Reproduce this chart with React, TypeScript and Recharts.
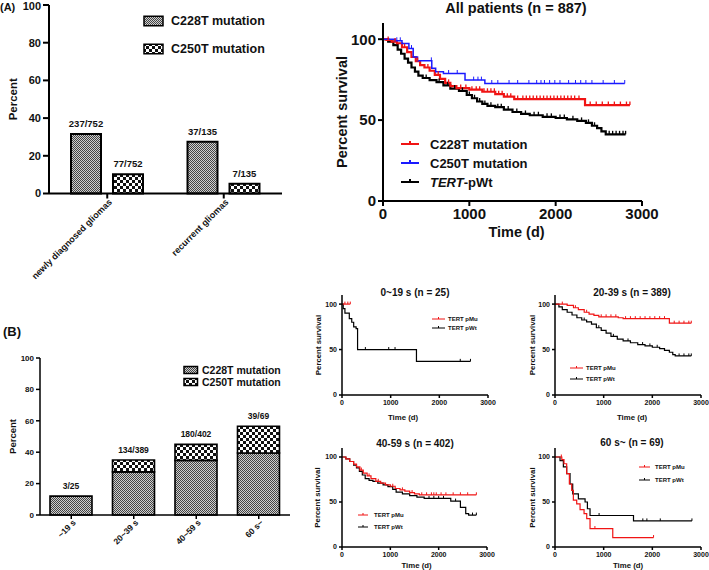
import React from 'react';
import { BarChart, Bar, XAxis, YAxis, LineChart, Line, LabelList, Legend } from 'recharts';

const FONT = '"Liberation Sans", Arial, Helvetica, sans-serif';
const INK = '#111';

// ---------- Panel A: mutation frequency by glioma type ----------
const gliomaTypes = ['newly diagnosed gliomas', 'recurrent gliomas'];
const gliomaC228T = [31.5, 27.4];
const gliomaC250T = [10.2, 5.2];
const gliomaC228TText = ['237/752', '37/135'];
const gliomaC250TText = ['77/752', '7/135'];

// ---------- Panel B: mutation frequency by age group ----------
const ageGroups = ['~19 s', '20~39 s', '40~59 s', '60 s~'];
const ageC228T = [12, 27.5, 34.8, 39.5];
const ageC250T = [0, 7.5, 10.2, 17];
const ageText = ['3/25', '134/389', '180/402', '39/69'];

const percentTicks = [0, 20, 40, 60, 80, 100];
const survivalTicks = [0, 50, 100];
const timeTicks = [0, 1000, 2000, 3000];

// ---------- Kaplan-Meier: all patients ----------
const allC228TSteps: [number, number][] = [
  [0, 100], [40, 99.5], [100, 98.5], [160, 97.5], [220, 95], [280, 92], [330, 89], [380, 86.5],
  [430, 84], [480, 82.5], [540, 80.5], [600, 78], [660, 75.5], [720, 73], [780, 71], [850, 69.8],
  [1000, 68.8], [1150, 67.5], [1300, 66], [1400, 64.5], [1520, 63], [2340, 59.3],
];
const allC228TCensor = [
  60, 140, 250, 400, 520, 640, 760, 900, 960, 1030, 1080, 1120, 1170, 1210, 1250, 1290, 1340, 1380,
  1440, 1480, 1560, 1620, 1660, 1700, 1740, 1780, 1820, 1860, 1900, 1940, 1980, 2020, 2060, 2100,
  2140, 2180, 2220, 2270, 2400, 2470, 2540, 2610, 2680, 2750, 2820, 2860,
];
const allC250TSteps: [number, number][] = [
  [0, 100], [140, 99], [220, 97.3], [300, 94.2], [350, 89], [400, 86.6], [565, 82], [610, 79.8],
  [700, 78.8], [950, 74.7], [1180, 72.6],
];
const allC250TCensor = [
  160, 200, 330, 560, 760, 860, 1050, 1100, 1140, 1260, 1330, 1460, 1560, 1690, 1780, 1830, 1870,
  1930, 1990, 2050, 2150, 2230, 2290, 2350, 2420, 2550, 2680, 2800,
];
const allWtSteps: [number, number][] = [
  [0, 100], [60, 98.5], [120, 96.3], [170, 93.5], [210, 91], [250, 88], [290, 85.5], [330, 82.5],
  [370, 80], [410, 77.5], [460, 76], [540, 74.7], [620, 73.5], [700, 71.5], [780, 69.5], [880, 68],
  [970, 65.5], [1030, 63.5], [1090, 61.5], [1150, 60], [1210, 58.8], [1300, 58], [1400, 56.5],
  [1500, 55], [1600, 53.8], [1700, 53], [1850, 52], [2000, 51.3], [2130, 50.5], [2250, 49.5],
  [2350, 48.3], [2420, 46.5], [2480, 45], [2530, 43], [2580, 41.2],
];
const allWtCensor = [
  500, 650, 750, 830, 920, 1000, 1060, 1120, 1180, 1250, 1330, 1370, 1450, 1550, 1650, 1750, 1800,
  1900, 1950, 2050, 2100, 2200, 2300, 2380, 2450, 2620, 2660, 2700, 2740, 2780, 2810,
];

// ---------- Kaplan-Meier: 0~19 s ----------
const a19MuSteps: [number, number][] = [[0, 100]];
const a19MuCensor = [60, 120, 170];
const a19WtSteps: [number, number][] = [
  [0, 100], [25, 95], [60, 90], [150, 84], [200, 80], [240, 75], [290, 73], [320, 50], [1530, 37],
];
const a19WtCensor = [480, 960, 1090, 2430, 2640];

// ---------- Kaplan-Meier: 20-39 s ----------
const a39MuSteps: [number, number][] = [
  [0, 100], [250, 98.5], [380, 96], [480, 94], [600, 91], [700, 89], [800, 87.5], [900, 86],
  [1300, 85], [1400, 84], [2350, 79],
];
const a39MuCensor = [150, 420, 650, 950, 1050, 1150, 1250, 1450, 1550, 1650, 1750, 1850, 1950, 2050, 2150, 2250, 2450, 2550, 2650, 2750, 2800];
const a39WtSteps: [number, number][] = [
  [0, 100], [80, 97], [150, 94], [250, 91], [350, 88], [450, 85], [550, 82.5], [650, 80.5],
  [750, 78], [850, 74], [950, 71], [1050, 68], [1150, 64.5], [1280, 61.5], [1400, 59.5],
  [1550, 57.5], [1700, 55.5], [1850, 54], [2000, 52.5], [2150, 51], [2250, 49], [2350, 47],
  [2420, 44.5], [2470, 43],
];
const a39WtCensor = [600, 900, 1200, 1500, 1800, 1950, 2100, 2550, 2650, 2750, 2800];

// ---------- Kaplan-Meier: 40-59 s ----------
const a59MuSteps: [number, number][] = [
  [0, 100], [80, 98], [160, 95], [240, 92], [300, 89], [370, 85.5], [440, 82], [520, 79], [600, 76],
  [700, 73], [800, 71], [900, 69], [1000, 67.5], [1100, 65], [1200, 63.5], [1300, 62], [1400, 60.5],
  [1500, 59], [1600, 58],
];
const a59MuCensor = [400, 560, 750, 1050, 1250, 1450, 1650, 1750, 1850, 1900, 1950, 2050, 2150, 2300, 2450, 2600, 2780];
const a59WtSteps: [number, number][] = [
  [0, 100], [80, 98], [160, 95], [240, 91], [300, 88], [360, 84], [420, 80], [480, 76], [560, 74],
  [640, 73], [740, 71], [850, 69], [950, 67], [1050, 64], [1120, 61], [1250, 59], [1400, 57],
  [1550, 55.5], [1700, 54], [2250, 51], [2450, 44], [2560, 37], [2620, 35.5],
];
const a59WtCensor = [1800, 1900, 2000, 2100, 2350, 2700, 2780];

// ---------- Kaplan-Meier: 60 s~ ----------
const a60MuSteps: [number, number][] = [
  [0, 100], [140, 97], [185, 92.5], [240, 81.5], [295, 70], [343, 63], [377, 52], [446, 48],
  [515, 41.5], [597, 37], [652, 31.5], [720, 20.5], [1187, 10.5],
];
const a60MuCensor = [130, 820, 2025];
const a60WtSteps: [number, number][] = [
  [0, 100], [103, 96], [172, 89], [240, 81.5], [309, 70], [364, 59], [480, 53.5], [618, 50],
  [666, 42.5], [720, 35], [1613, 29],
];
const a60WtCensor = [906, 1805, 1888, 2163, 2814];

type Pt = { t: number; s: number; c: boolean };

function buildKM(steps: [number, number][], censor: number[]): Pt[] {
  const pts: Pt[] = steps.map(([t, s]) => ({ t, s, c: false }));
  censor.forEach((ct) => {
    let s = steps[0][1];
    steps.forEach(([t, v]) => {
      if (t <= ct) s = v;
    });
    pts.push({ t: ct, s, c: true });
  });
  pts.sort((a, b) => a.t - b.t);
  return pts;
}

const barTableA = gliomaTypes.map((name, i) => ({
  name,
  c228: gliomaC228T[i],
  c250: gliomaC250T[i],
  l228: gliomaC228TText[i],
  l250: gliomaC250TText[i],
}));

// the count label sits on top of the stack: on the C250T segment if it exists, else on C228T
const barTableB = ageGroups.map((name, i) => ({
  name,
  c228: ageC228T[i],
  c250: ageC250T[i],
  labelLow: ageC250T[i] > 0 ? '' : ageText[i],
  labelHigh: ageC250T[i] > 0 ? ageText[i] : '',
}));

const Patterns = ({ id }: { id: string }) => (
  <defs>
    <pattern id={`p228-${id}`} width="2" height="2" patternUnits="userSpaceOnUse">
      <rect width="2" height="2" fill="#cfcfcf" />
      <rect width="1" height="1" fill="#444" />
      <rect x="1" y="1" width="1" height="1" fill="#444" />
    </pattern>
    <pattern id={`p250-${id}`} width="6" height="6" patternUnits="userSpaceOnUse">
      <rect width="6" height="6" fill="#fff" />
      <rect width="3" height="3" fill="#111" />
      <rect x="3" y="3" width="3" height="3" fill="#111" />
    </pattern>
  </defs>
);

const RotTick = (fs: number, dx: number, dy: number) => (p: any) => {
  const { x, y, payload } = p;
  return (
    <g transform={`translate(${x + dx},${y + dy})`}>
      <text
        x={0}
        y={0}
        dy="0.35em"
        textAnchor="end"
        transform="rotate(-45)"
        fontSize={fs}
        fontWeight="bold"
        fill={INK}
      >
        {payload.value}
      </text>
    </g>
  );
};

const barLegend = (cfg: { w: number; h: number; rows: number[]; sw: number; sh: number; tx: number; fs: number }) =>
  (props: any) => {
    const items = [...(props.payload || [])].sort((a: any, b: any) => String(a.value).localeCompare(String(b.value)));
    return (
      <svg width={cfg.w} height={cfg.h} style={{ display: 'block', overflow: 'visible' }}>
        {items.map((it: any, i: number) => (
          <g key={i}>
            <rect x={4} y={cfg.rows[i] - cfg.sh / 2} width={cfg.sw} height={cfg.sh} fill={it.color} stroke="#000" strokeWidth={1.5} />
            <text x={cfg.tx} y={cfg.rows[i]} dy="0.35em" fontSize={cfg.fs} fontWeight="bold" fill={INK}>
              {it.value}
            </text>
          </g>
        ))}
      </svg>
    );
  };

const renderName = (v: string) => {
  if (v.startsWith('TERT-')) {
    return (
      <>
        <tspan fontStyle="italic">TERT</tspan>
        <tspan>{v.slice(4)}</tspan>
      </>
    );
  }
  return v;
};

const lineLegend = (cfg: { w: number; h: number; rows: number[]; x1: number; x2: number; tx: number; fs: number; lw: number; tick: number }) =>
  (props: any) => {
    const items = [...(props.payload || [])].sort((a: any, b: any) => String(a.value).localeCompare(String(b.value)));
    return (
      <svg width={cfg.w} height={cfg.h} style={{ display: 'block', overflow: 'visible' }}>
        {items.map((it: any, i: number) => {
          const y = cfg.rows[i];
          const mx = (cfg.x1 + cfg.x2) / 2;
          return (
            <g key={i}>
              <line x1={cfg.x1} x2={cfg.x2} y1={y} y2={y} stroke={it.color} strokeWidth={cfg.lw} />
              <line x1={mx} x2={mx} y1={y} y2={y - cfg.tick} stroke={it.color} strokeWidth={cfg.lw} />
              <text x={cfg.tx} y={y} dy="0.35em" fontSize={cfg.fs} fontWeight="bold" fill={INK}>
                {renderName(String(it.value))}
              </text>
            </g>
          );
        })}
      </svg>
    );
  };

const makeDot = (h: number, color: string, w: number) => (p: any) => {
  const { cx, cy, payload, index } = p;
  if (!payload || !payload.c || cx == null || cy == null) return <g key={`d${index}`} />;
  return <line key={`d${index}`} x1={cx} x2={cx} y1={cy} y2={cy - h} stroke={color} strokeWidth={w} />;
};

type KMSeries = { name: string; color: string; width: number; data: Pt[] };

type KMConfig = {
  left: number;
  top: number;
  width: number;
  height: number;
  marginTop: number;
  marginRight: number;
  yAxisWidth: number;
  xAxisHeight: number;
  title: string;
  titleX: number;
  titleY: number;
  titleSize: number;
  tickFont: number;
  tickSize: number;
  tickMargin: number;
  axisWidth: number;
  labelFont: number;
  yLabelCenter: number;
  xLabelOffset: number;
  xLabelDx: number;
  censorH: number;
  series: KMSeries[];
  legend: { left: number; top: number; w: number; h: number; rows: number[]; x1: number; x2: number; tx: number; fs: number; lw: number; tick: number };
};

const KMChart = ({ cfg }: { cfg: KMConfig }) => (
  <div style={{ position: 'absolute', left: cfg.left, top: cfg.top }}>
    <LineChart
      width={cfg.width}
      height={cfg.height}
      margin={{ top: cfg.marginTop, right: cfg.marginRight, bottom: 0, left: 0 }}
    >
      <XAxis
        type="number"
        dataKey="t"
        domain={[0, 3000]}
        ticks={timeTicks}
        allowDataOverflow
        height={cfg.xAxisHeight}
        tickSize={cfg.tickSize}
        tickMargin={cfg.tickMargin}
        axisLine={{ stroke: '#000', strokeWidth: cfg.axisWidth }}
        tickLine={{ stroke: '#000', strokeWidth: cfg.axisWidth }}
        tick={{ fontSize: cfg.tickFont, fontWeight: 'bold', fill: INK }}
        label={{
          value: 'Time (d)',
          position: 'insideBottom',
          offset: cfg.xLabelOffset,
          dx: cfg.xLabelDx,
          style: { fontSize: cfg.labelFont, fontWeight: 'bold', fill: INK },
        }}
      />
      <YAxis
        type="number"
        domain={[0, 110]}
        ticks={survivalTicks}
        allowDataOverflow
        width={cfg.yAxisWidth}
        tickSize={cfg.tickSize}
        tickMargin={cfg.tickMargin}
        axisLine={{ stroke: '#000', strokeWidth: cfg.axisWidth }}
        tickLine={{ stroke: '#000', strokeWidth: cfg.axisWidth }}
        tick={{ fontSize: cfg.tickFont, fontWeight: 'bold', fill: INK }}
        label={{
          value: 'Percent survival',
          angle: -90,
          position: 'insideLeft',
          offset: cfg.yLabelCenter,
          style: { textAnchor: 'middle', fontSize: cfg.labelFont, fontWeight: 'bold', fill: INK },
        }}
      />
      {cfg.series.map((s) => (
        <Line
          key={s.name}
          name={s.name}
          data={s.data}
          dataKey="s"
          type="stepAfter"
          stroke={s.color}
          strokeWidth={s.width}
          dot={makeDot(cfg.censorH, s.color, Math.max(1, s.width * 0.6))}
          activeDot={false}
          isAnimationActive={false}
        />
      ))}
      <Legend
        layout="vertical"
        align="center"
        verticalAlign="middle"
        wrapperStyle={{ left: cfg.legend.left, top: cfg.legend.top, width: cfg.legend.w, height: cfg.legend.h }}
        content={lineLegend(cfg.legend)}
      />
      <text
        x={cfg.titleX}
        y={cfg.titleY}
        textAnchor="middle"
        fontSize={cfg.titleSize}
        fontWeight="bold"
        fill={INK}
      >
        {cfg.title}
      </text>
    </LineChart>
  </div>
);

const RED = '#f01414';
const BLUE = '#1a1aff';
const BLACK = '#000';

const mainKM: KMConfig = {
  left: 300, top: 0, width: 409, height: 250,
  marginTop: 23, marginRight: 67, yAxisWidth: 83, xAxisHeight: 49,
  title: 'All patients (n = 887)', titleX: 216, titleY: 12.5, titleSize: 14.5,
  tickFont: 15, tickSize: 5, tickMargin: 2, axisWidth: 2,
  labelFont: 14.5, yLabelCenter: 42, xLabelOffset: 13, xLabelDx: 4, censorH: 3.5,
  series: [
    { name: 'TERT-pWt', color: BLACK, width: 2.2, data: buildKM(allWtSteps, allWtCensor) },
    { name: 'C228T mutation', color: RED, width: 2.2, data: buildKM(allC228TSteps, allC228TCensor) },
    { name: 'C250T mutation', color: BLUE, width: 1.5, data: buildKM(allC250TSteps, allC250TCensor) },
  ],
  legend: { left: 95, top: 130, w: 160, h: 65, rows: [14, 33, 52], x1: 6, x2: 24, tx: 35, fs: 13, lw: 2, tick: 3 },
};

const smallBase = {
  titleSize: 10, tickFont: 7, tickSize: 3, tickMargin: 2, axisWidth: 1.5, labelFont: 7.8, censorH: 2.5,
};

const kmTL: KMConfig = {
  ...smallBase,
  left: 300, top: 285, width: 200, height: 145,
  marginTop: 10, marginRight: 12, yAxisWidth: 42, xAxisHeight: 35,
  title: '0~19 s (n = 25)', titleX: 115, titleY: 11,
  yLabelCenter: 18, xLabelOffset: 10, xLabelDx: -12,
  series: [
    { name: 'TERT pWt', color: BLACK, width: 1.2, data: buildKM(a19WtSteps, a19WtCensor) },
    { name: 'TERT pMu', color: RED, width: 1.2, data: buildKM(a19MuSteps, a19MuCensor) },
  ],
  legend: { left: 128, top: 28, w: 60, h: 22, rows: [6, 15], x1: 4, x2: 17, tx: 20, fs: 6, lw: 1, tick: 2 },
};

const kmTR: KMConfig = {
  ...smallBase,
  left: 500, top: 285, width: 209, height: 145,
  marginTop: 10, marginRight: 8, yAxisWidth: 55, xAxisHeight: 35,
  title: '20-39 s (n = 389)', titleX: 132, titleY: 11,
  yLabelCenter: 32, xLabelOffset: 10, xLabelDx: 4,
  series: [
    { name: 'TERT pWt', color: BLACK, width: 1.2, data: buildKM(a39WtSteps, a39WtCensor) },
    { name: 'TERT pMu', color: RED, width: 1.2, data: buildKM(a39MuSteps, a39MuCensor) },
  ],
  legend: { left: 66, top: 77, w: 60, h: 24, rows: [6, 17], x1: 4, x2: 17, tx: 20, fs: 6, lw: 1, tick: 2 },
};

const kmBL: KMConfig = {
  ...smallBase,
  left: 300, top: 430, width: 200, height: 140,
  marginTop: 18, marginRight: 13, yAxisWidth: 42, xAxisHeight: 23,
  title: '40-59 s (n = 402)', titleX: 115, titleY: 17,
  yLabelCenter: 17, xLabelOffset: 2, xLabelDx: 2,
  series: [
    { name: 'TERT pWt', color: BLACK, width: 1.2, data: buildKM(a59WtSteps, a59WtCensor) },
    { name: 'TERT pMu', color: RED, width: 1.2, data: buildKM(a59MuSteps, a59MuCensor) },
  ],
  legend: { left: 54, top: 79, w: 60, h: 24, rows: [6, 18], x1: 4, x2: 14, tx: 20, fs: 6, lw: 1, tick: 2 },
};

const kmBR: KMConfig = {
  ...smallBase,
  left: 500, top: 430, width: 209, height: 140,
  marginTop: 18, marginRight: 8, yAxisWidth: 55, xAxisHeight: 23,
  title: '60 s~ (n = 69)', titleX: 132, titleY: 16,
  yLabelCenter: 32, xLabelOffset: 2, xLabelDx: 0,
  series: [
    { name: 'TERT pWt', color: BLACK, width: 1.2, data: buildKM(a60WtSteps, a60WtCensor) },
    { name: 'TERT pMu', color: RED, width: 1.2, data: buildKM(a60MuSteps, a60MuCensor) },
  ],
  legend: { left: 135, top: 31, w: 60, h: 24, rows: [6, 19], x1: 4, x2: 15, tx: 20, fs: 6, lw: 1, tick: 2 },
};

const BarA = () => (
  <div style={{ position: 'absolute', left: 0, top: 0 }}>
    <BarChart
      width={290}
      height={290}
      data={barTableA}
      margin={{ top: 5, right: 8, bottom: 0, left: 0 }}
      barSize={30}
      barGap={12}
    >
      <Patterns id="a" />
      <XAxis
        dataKey="name"
        interval={0}
        height={96.5}
        tickSize={5}
        axisLine={{ stroke: '#000', strokeWidth: 2 }}
        tickLine={{ stroke: '#000', strokeWidth: 2 }}
        tick={RotTick(9, 3, 0)}
      />
      <YAxis
        type="number"
        domain={[0, 100]}
        ticks={percentTicks}
        width={49}
        tickSize={6}
        axisLine={{ stroke: '#000', strokeWidth: 2 }}
        tickLine={{ stroke: '#000', strokeWidth: 2 }}
        tick={{ fontSize: 11, fontWeight: 'bold', fill: INK }}
        label={{
          value: 'Percent',
          angle: -90,
          position: 'insideLeft',
          offset: 12.5,
          style: { textAnchor: 'middle', fontSize: 11.5, fontWeight: 'bold', fill: INK },
        }}
      />
      <Bar dataKey="c228" name="C228T mutation" fill="url(#p228-a)" stroke="#000" strokeWidth={2} isAnimationActive={false}>
        <LabelList dataKey="l228" position="top" offset={7} style={{ fontSize: 9.5, fontWeight: 'bold', fill: INK }} />
      </Bar>
      <Bar dataKey="c250" name="C250T mutation" fill="url(#p250-a)" stroke="#000" strokeWidth={2} isAnimationActive={false}>
        <LabelList dataKey="l250" position="top" offset={7} style={{ fontSize: 9.5, fontWeight: 'bold', fill: INK }} />
      </Bar>
      <Legend
        layout="vertical"
        align="center"
        verticalAlign="middle"
        wrapperStyle={{ left: 140, top: 10, width: 150, height: 50 }}
        content={barLegend({ w: 150, h: 50, rows: [11, 39], sw: 19, sh: 9.5, tx: 31, fs: 12.5 })}
      />
      <text x={0} y={11} fontSize={11} fontWeight="bold" fill={INK}>(A)</text>
    </BarChart>
  </div>
);

const BarB = () => (
  <div style={{ position: 'absolute', left: 0, top: 300 }}>
    <BarChart
      width={300}
      height={270}
      data={barTableB}
      margin={{ top: 58, right: 10, bottom: 0, left: 0 }}
      barSize={42}
    >
      <Patterns id="b" />
      <XAxis
        dataKey="name"
        interval={0}
        height={55}
        tickSize={4}
        axisLine={{ stroke: '#000', strokeWidth: 1.5 }}
        tickLine={{ stroke: '#000', strokeWidth: 1.5 }}
        tick={RotTick(8.5, 3, 0)}
      />
      <YAxis
        type="number"
        domain={[0, 100]}
        ticks={percentTicks}
        width={40}
        tickSize={4}
        axisLine={{ stroke: '#000', strokeWidth: 1.5 }}
        tickLine={{ stroke: '#000', strokeWidth: 1.5 }}
        tick={{ fontSize: 8, fontWeight: 'bold', fill: INK }}
        label={{
          value: 'Percent',
          angle: -90,
          position: 'insideLeft',
          offset: 12.5,
          style: { textAnchor: 'middle', fontSize: 9.5, fontWeight: 'bold', fill: INK },
        }}
      />
      <Bar dataKey="c228" stackId="s" name="C228T mutation" fill="url(#p228-b)" stroke="#000" strokeWidth={1.6} isAnimationActive={false}>
        <LabelList dataKey="labelLow" position="top" offset={7} style={{ fontSize: 8.5, fontWeight: 'bold', fill: INK }} />
      </Bar>
      <Bar dataKey="c250" stackId="s" name="C250T mutation" fill="url(#p250-b)" stroke="#000" strokeWidth={1.6} isAnimationActive={false}>
        <LabelList dataKey="labelHigh" position="top" offset={7} style={{ fontSize: 8.5, fontWeight: 'bold', fill: INK }} />
      </Bar>
      <Legend
        layout="vertical"
        align="center"
        verticalAlign="middle"
        wrapperStyle={{ left: 180, top: 62, width: 120, height: 30 }}
        content={barLegend({ w: 120, h: 30, rows: [8, 20], sw: 13.5, sh: 7, tx: 22, fs: 10.5 })}
      />
      <text x={3} y={36} fontSize={13} fontWeight="bold" fill={INK}>(B)</text>
    </BarChart>
  </div>
);

export default function App() {
  return (
    <div
      style={{
        position: 'absolute',
        left: 0,
        top: 0,
        width: 709,
        height: 570,
        background: '#fff',
        fontFamily: FONT,
        overflow: 'hidden',
      }}
    >
      <BarA />
      <KMChart cfg={mainKM} />
      <BarB />
      <KMChart cfg={kmTL} />
      <KMChart cfg={kmTR} />
      <KMChart cfg={kmBL} />
      <KMChart cfg={kmBR} />
    </div>
  );
}
